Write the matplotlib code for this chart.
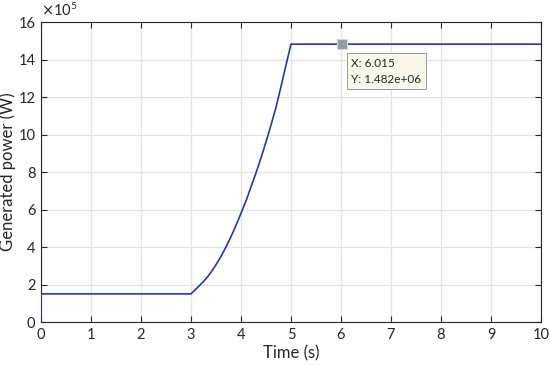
import matplotlib
matplotlib.use("Agg")
import matplotlib.pyplot as plt

plt.rcParams['font.family'] = ['Lato', 'DejaVu Sans']

# Data (power in units of 1e5 W)
time_s = [0.0, 0.0, 3.0, 3.1, 3.2, 3.3, 3.4, 3.5, 3.6, 3.7, 3.8, 3.9, 4.0,
          4.1, 4.2, 4.3, 4.4, 4.5, 4.6, 4.7, 4.8, 4.9, 5.0, 10.0]
power_e5 = [0.0, 1.5, 1.5, 1.76, 2.02, 2.31, 2.65, 3.05, 3.5, 4.0, 4.55, 5.15, 5.8,
            6.45, 7.2, 7.95, 8.75, 9.6, 10.5, 11.45, 12.55, 13.7, 14.82, 14.82]
tip_x = 6.015
tip_y = 1.482e6
x_ticks = [0, 1, 2, 3, 4, 5, 6, 7, 8, 9, 10]
y_ticks = [0, 2, 4, 6, 8, 10, 12, 14, 16]

fig = plt.figure(figsize=(5.5, 3.65), dpi=100)
ax = fig.add_axes([0.0745, 0.1178, 0.9091, 0.8219])

ax.plot(time_s, power_e5, color='#2a36a8', lw=1.2, zorder=3)
ax.set_xlim(0, 10)
ax.set_ylim(0, 16)
ax.set_xticks(x_ticks)
ax.set_yticks(y_ticks)
ax.grid(True, color='#e3e3e3', lw=0.9)
ax.set_axisbelow(True)
for s in ax.spines.values():
    s.set_color('#262626')
    s.set_linewidth(0.8)
ax.tick_params(direction='in', length=4, width=0.8, colors='#262626',
               labelsize=10.5, top=True, right=True, pad=4)
ax.set_xlabel('Time (s)', fontsize=12, color='#262626', labelpad=3)
ax.set_ylabel('Generated power (W)', fontsize=12, color='#262626')
ax.yaxis.set_label_coords(-0.05, 0.5)
ax.text(0.0, 1.01, r'$\times\mathregular{10^{5}}$', transform=ax.transAxes,
        fontsize=10.5, color='#262626', ha='left', va='bottom')

# data tip
ax.plot([tip_x], [tip_y / 1e5], marker='s', ms=7, color='#9a9a9a',
        mec='#d8d8d8', mew=0.8, zorder=5)
ax.annotate(f'X: {tip_x:.3f}\nY: {tip_y:.3e}',
            xy=(tip_x, tip_y / 1e5), xytext=(7, -10), textcoords='offset points',
            ha='left', va='top', fontsize=8.5, color='#262626', linespacing=1.5,
            bbox=dict(boxstyle='square,pad=0.4', fc='#f7f7ea', ec='#9a9a9a', lw=0.7),
            zorder=6)

fig.savefig('out.png', dpi=100)
